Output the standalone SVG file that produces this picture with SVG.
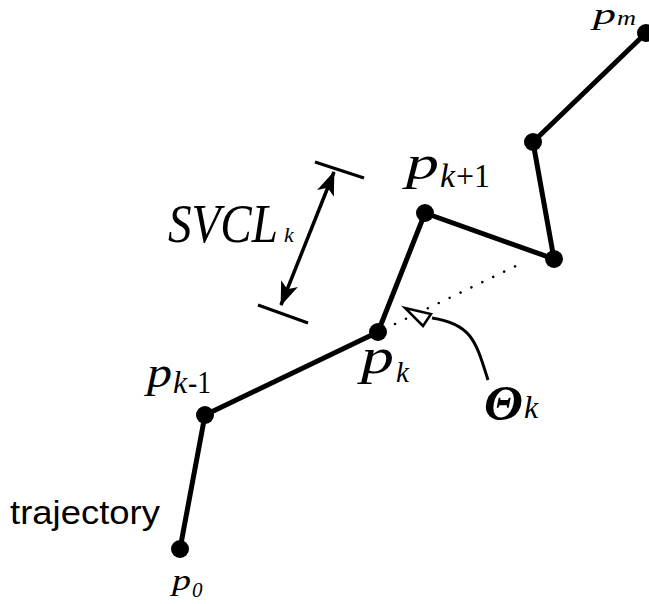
<svg xmlns="http://www.w3.org/2000/svg" width="649" height="604" viewBox="0 0 649 604">
<style>
.seg{fill:none;stroke:#000;stroke-width:5;stroke-linecap:round;stroke-linejoin:round}
.dot{fill:#000}
.it{font-family:"Liberation Serif",serif;font-style:italic;fill:#000}
.up{font-family:"Liberation Serif",serif;fill:#000}
.sans{font-family:"Liberation Sans",Arial,sans-serif;fill:#000}
.thin{fill:none;stroke:#000;stroke-width:3}
</style>
<defs>
<marker id="ah" viewBox="0 0 24 18" refX="23" refY="9" markerWidth="24" markerHeight="18" markerUnits="userSpaceOnUse" orient="auto-start-reverse">
<path d="M0,0 L24,9 L0,18 L6,9 Z" fill="#000"/>
</marker>
</defs>
<g id="connectors">
<polyline class="seg" points="180,549 205,415 378,332 425,213 554,259 533,142 646,33"/>
<line x1="395" y1="324" x2="520" y2="264" stroke="#000" stroke-width="2.5" stroke-dasharray="0.1 12" stroke-linecap="round"/>
<line class="thin" x1="315" y1="162" x2="364" y2="178"/>
<line class="thin" x1="258" y1="305" x2="308" y2="323"/>
<line x1="334" y1="172" x2="281" y2="305" stroke="#000" stroke-width="3.5" marker-start="url(#ah)" marker-end="url(#ah)"/>
<path d="M488,380 C476,342 472,324 432,318" fill="none" stroke="#000" stroke-width="3"/>
<polygon points="405,308 431,314 423,326" fill="#fff" stroke="#000" stroke-width="2.5" stroke-linejoin="miter"/>
</g>
<g id="p0"><circle class="dot" cx="180" cy="549" r="9"/><text class="it" x="172" y="590" font-size="29" textLength="19" lengthAdjust="spacingAndGlyphs">p</text><text class="it" x="192" y="597" font-size="21">0</text></g>
<g id="p1"><circle class="dot" cx="205" cy="415" r="9"/></g>
<g id="pkm1"><text class="it" x="147" y="387" font-size="44" textLength="25" lengthAdjust="spacingAndGlyphs">p</text><text class="it" x="173" y="393" font-size="32">k</text><text class="up" x="188" y="393" font-size="32" textLength="23" lengthAdjust="spacingAndGlyphs">-1</text></g>
<g id="pk"><circle class="dot" cx="378" cy="332" r="9"/><text class="it" x="361" y="373" font-size="50" textLength="33" lengthAdjust="spacingAndGlyphs">p</text><text class="it" x="396" y="382" font-size="29">k</text></g>
<g id="pkp1"><circle class="dot" cx="425" cy="213" r="9"/><text class="it" x="406" y="179" font-size="48" textLength="33" lengthAdjust="spacingAndGlyphs">p</text><text class="it" x="440" y="187" font-size="34">k</text><text class="up" x="456" y="187" font-size="33" textLength="34" lengthAdjust="spacingAndGlyphs">+1</text></g>
<g id="pa"><circle class="dot" cx="554" cy="259" r="9"/></g>
<g id="pb"><circle class="dot" cx="533" cy="142" r="9"/></g>
<g id="pm"><circle class="dot" cx="646" cy="33" r="9"/><text class="it" x="593" y="24" font-size="30" textLength="23" lengthAdjust="spacingAndGlyphs">p</text><text class="it" x="617" y="25" font-size="21" textLength="19" lengthAdjust="spacingAndGlyphs">m</text></g>
<g id="svcl"><text class="it" x="168" y="242" font-size="54" textLength="110" lengthAdjust="spacingAndGlyphs">SVCL</text><text class="it" x="284" y="242" font-size="22">k</text></g>
<g id="theta"><text class="it" x="484" y="420" font-size="50" font-weight="bold" textLength="39" lengthAdjust="spacingAndGlyphs">Θ</text><text class="it" x="524" y="418" font-size="32">k</text></g>
<g id="traj"><text class="sans" x="10" y="524" font-size="34" textLength="150" lengthAdjust="spacingAndGlyphs">trajectory</text></g>
</svg>
